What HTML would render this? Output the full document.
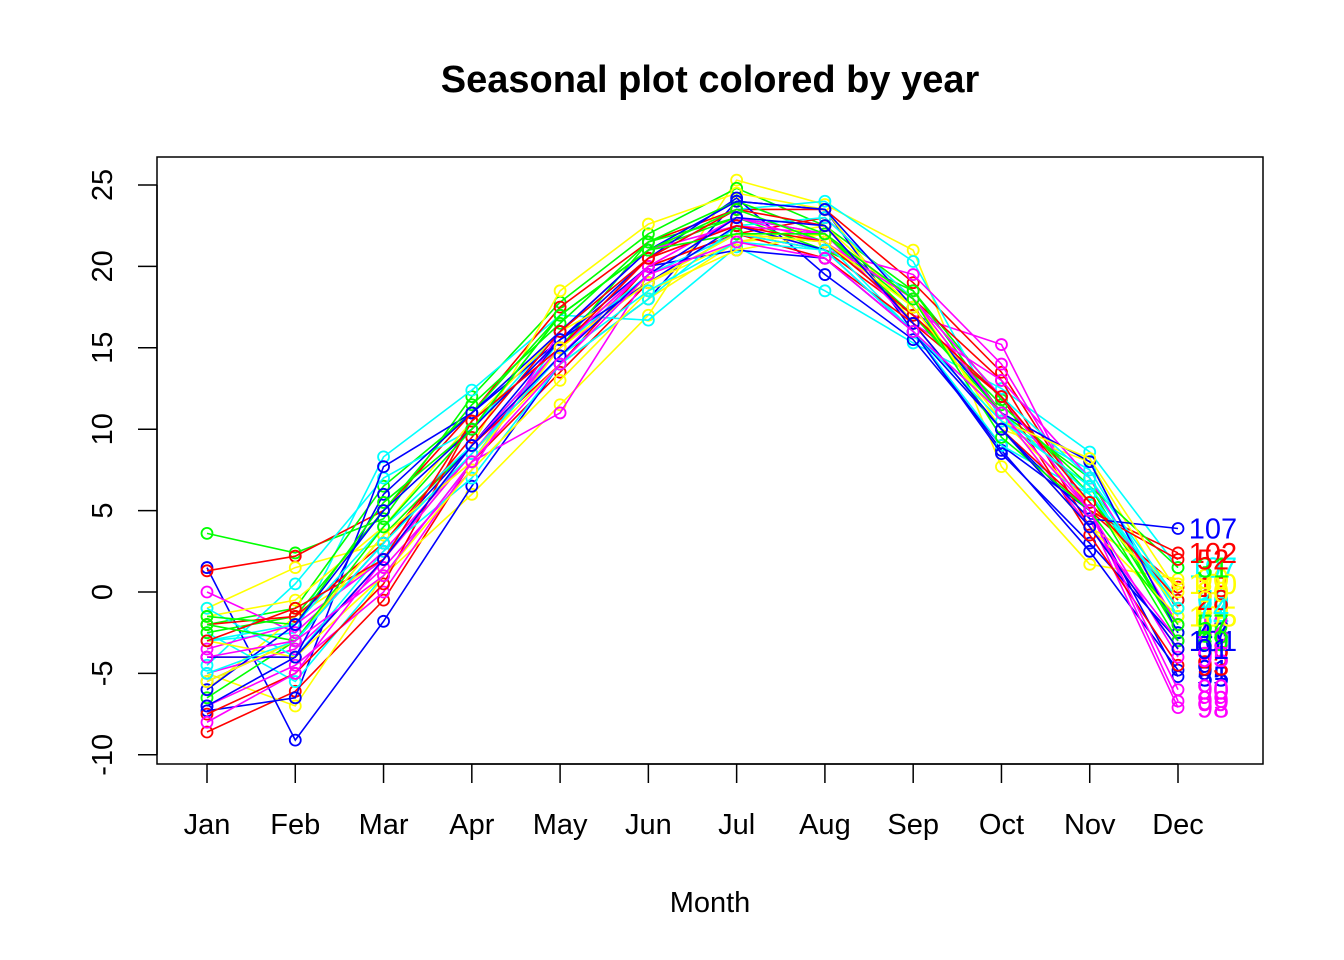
<!DOCTYPE html>
<html><head><meta charset="utf-8">
<style>
html,body{margin:0;padding:0;background:#fff;}
svg{display:block;font-family:"Liberation Sans",Arial,sans-serif;}
</style></head>
<body>
<svg id="chart" width="1344" height="960" viewBox="0 0 1344 960" xmlns="http://www.w3.org/2000/svg">
<rect width="1344" height="960" fill="#fff"/>
<text x="710" y="92" text-anchor="middle" font-size="38" font-weight="bold">Seasonal plot colored by year</text>
<text x="710" y="912" text-anchor="middle" font-size="29">Month</text>
<g id="axes"></g>
<g id="series"></g>
<rect x="157" y="157" width="1106" height="607" fill="none" stroke="#000" stroke-width="1.5"/>
</svg>
<script>
const months = ["Jan","Feb","Mar","Apr","May","Jun","Jul","Aug","Sep","Oct","Nov","Dec"];
const yTicks = [-10,-5,0,5,10,15,20,25];
const palette = ["#ff0000","#ffff00","#00ff00","#00ffff","#0000ff","#ff00ff"];
const yearLabels = ["18","90","72","107","91","98","102","44","63","84","55","99","36","100","26","77","101","12","93","60","31","70","47","88","52","105","39","66","107","95","28","80","57","74","91","90"];
const seriesValues = [
[-8.6,-6.1,-0.5,8,13.5,19,22,21,17,12,5,0.3],
[-5,-7,1,6,11.5,17,25.3,23.8,21,7.7,1.7,0.8],
[3.6,2.4,4.5,12,17.8,22,24.8,22.5,18.5,11.8,6,-2],
[-3,-2.5,8.3,12.4,17,16.7,21.2,18.5,15.3,12.5,8.6,1.5],
[1.5,-9.1,-1.8,6.5,14,18,24,23.5,16,8.7,2.5,-4.8],
[-7,-4.5,0,8,11,19.5,22,21.5,17,15.2,4.5,-7.1],
[1.3,2.2,5,11,17.5,21.5,23.5,23.5,19,13.5,5,2.4],
[-1,1.5,3,9,18.5,22.6,24.5,23.5,16.5,10,8,-1],
[-2,-1,6.5,11,17,21,23,22,17.5,10.5,6.5,-2.5],
[-4.5,0.5,7,10,16,20.5,23.5,24,20.3,10.5,7.5,-1.5],
[-7.3,-6.5,7.7,11,15.5,20.5,24.2,19.5,15.5,9,5,-5.2],
[0,-2.5,2.5,8.5,15,20.5,22.5,21,19.5,14,5,-6.7],
[-4,-4,2,9,14,20,22,23,18,13,4,-3.5],
[-6,-1.5,2,8.5,14,18,21.5,22,18,11,4,0.5],
[-6.5,-3,3.5,9,15,21.5,23,21,18.5,11,7,-2.5],
[-2.5,-5.5,1,8,15.5,19,22,21.5,16,9,6,-1],
[-5.5,-3,3,9,15.5,20,21,20.5,16,8.5,3,-3],
[-5,-3.5,1.5,7.5,16,21,22.5,22,16.5,13,7,-2],
[-7.5,-5,0.5,10.5,15,20,22,20.5,16.5,12,3.5,-4.5],
[-1.5,-0.5,4,10.5,16,19,21.5,22.5,17.5,10.5,5.5,-1],
[-2.5,-1.5,5,11.5,16.5,21.5,24,22,17,11.5,6.5,1.5],
[-1,-4,2.5,7,14,18,22.5,23,18,12,7,-0.5],
[-4,-4,6,11,16,21,24,23.5,17.5,11,8,-2.5],
[-3.5,-2,2,8.5,14.5,20,23,22,18,11,4,-3],
[-2,-1.5,3,9.5,16,20.5,23.5,22.5,16.5,10,5,2],
[-3,-4,1,7.5,13,18.5,21,22,18,10,4,-1.5],
[-1.5,-2,5.5,10,17,21,23.5,21.5,17,11,6,-3],
[-3,-2,4,9,15,19.5,22,21,16,11,6,-0.5],
[-6,-2,5,10,15.5,19,22.5,21,16,10,4.5,3.9],
[-8,-5,2,9,15,20,23,21.5,18,12,5,-4],
[-3,-1,2,10.5,15,20.5,22.5,21.5,17,12,5.5,-0.5],
[-5.5,-3,3.5,8,15,19,22,21.5,17.5,10.5,8.2,0],
[-2,-3,4,10,17,21,22,22,18,9.5,5,-2],
[-5,-3,3,8.5,14.5,18.5,21.5,21,16,10.5,6.5,-1],
[-7,-4,2,9,14.5,19.5,23,22.5,16.5,10,4,-3.5],
[-4,-3,1,8,14,19.5,21.5,20.5,16,11,5,-6]
];

const NS = "http://www.w3.org/2000/svg";
function xPos(i){ return 207 + i*(1178-207)/11; }
function yPos(v){ return 592 - v*(592-185)/25; }
function mk(tag, attrs, parent){
  const e = document.createElementNS(NS, tag);
  for (const k in attrs) e.setAttribute(k, attrs[k]);
  parent.appendChild(e);
  return e;
}
const axes = document.getElementById("axes");
mk("line",{x1:xPos(0),x2:xPos(11),y1:764,y2:764,stroke:"#000","stroke-width":1.5},axes);
months.forEach((m,i)=>{
  const t = mk("line",{x1:xPos(i),x2:xPos(i),y1:764,y2:783,stroke:"#000","stroke-width":1.5},axes);
  
  
  const l = mk("text",{x:xPos(i),y:834,"text-anchor":"middle","font-size":29},axes);
  l.textContent = m;
  
  
});
mk("line",{x1:157,x2:157,y1:yPos(-10),y2:yPos(25),stroke:"#000","stroke-width":1.5},axes);
yTicks.forEach(v=>{
  const t = mk("line",{x1:138,x2:157,y1:yPos(v),y2:yPos(v),stroke:"#000","stroke-width":1.5},axes);
  
  
  const l = mk("text",{x:0,y:0,"text-anchor":"middle","font-size":29,transform:`translate(112,${yPos(v)}) rotate(-90)`},axes);
  l.textContent = String(v);
  
  
});
const sg = document.getElementById("series");
seriesValues.forEach((vals,s)=>{
  const col = palette[s % palette.length];
  const g = mk("g",{},sg);
  
  
  const pts = vals.map((v,i)=>xPos(i)+","+yPos(v)).join(" ");
  const pl = mk("polyline",{points:pts,fill:"none",stroke:col,"stroke-width":1.6},g);
  
  
  vals.forEach((v,i)=>{
    const c = mk("circle",{cx:xPos(i),cy:yPos(v),r:5.5,fill:"none",stroke:col,"stroke-width":1.8},g);
    
    
  });
  const lb = mk("text",{x:xPos(11)+35,y:yPos(vals[11])+10,"text-anchor":"middle","font-size":29,fill:col},g);
  lb.textContent = yearLabels[s];
  
  
});
</script>
</body></html>
